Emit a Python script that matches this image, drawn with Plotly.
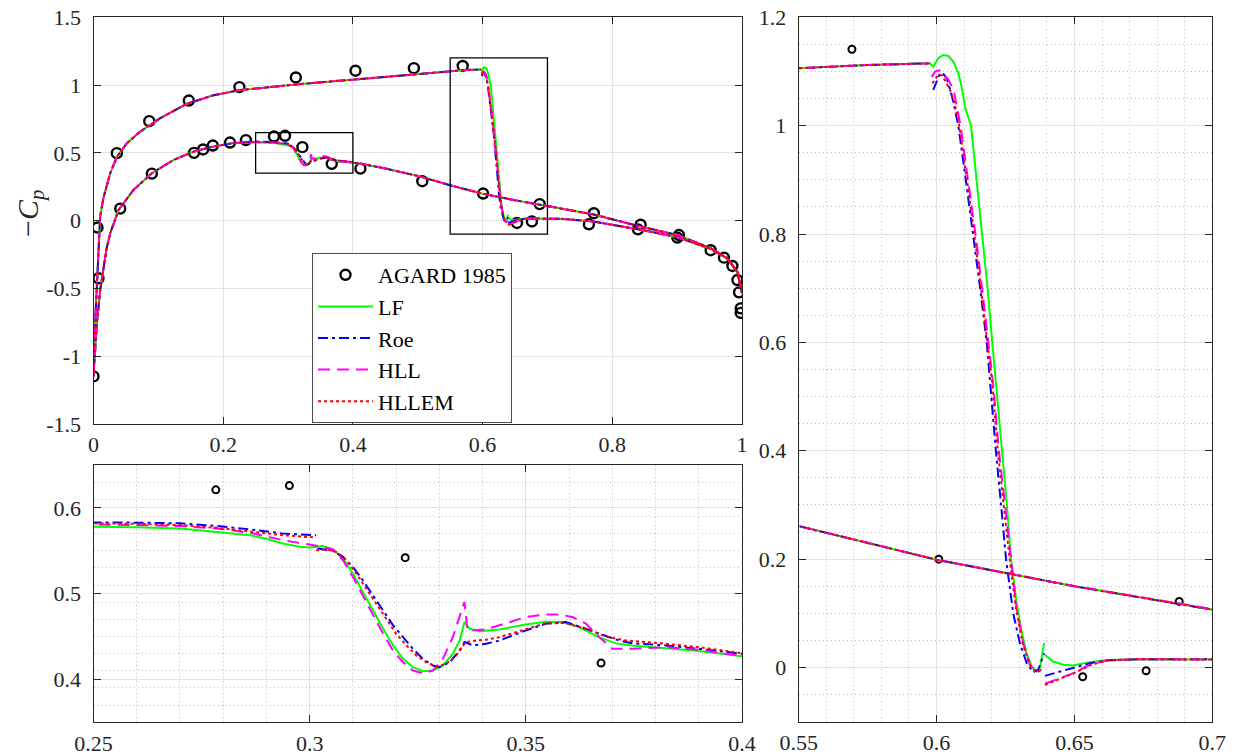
import plotly.graph_objects as go

# ---------------- data ----------------
AGARD_X = [0.0, 0.0062, 0.036, 0.086, 0.147, 0.225, 0.312, 0.404, 0.494, 0.5693,
           0.653, 0.676, 0.7639, 0.8395, 0.9003,
           0.0077, 0.0412, 0.090, 0.155, 0.169, 0.184, 0.2105, 0.235, 0.2783, 0.2953,
           0.3221, 0.3674, 0.4116, 0.507, 0.6008, 0.688, 0.7716, 0.8437, 0.9028,
           0.9517, 0.9722, 0.9852, 0.9929, 0.9954, 0.998, 0.998]
AGARD_Y = [-1.149, -0.051, 0.498, 0.734, 0.886, 0.985, 1.056, 1.106, 1.125, 1.141,
           -0.017, -0.006, -0.027, -0.064, -0.125,
           -0.425, 0.089, 0.347, 0.500, 0.525, 0.554, 0.576, 0.594, 0.621, 0.626,
           0.542, 0.419, 0.384, 0.291, 0.200, 0.122, 0.055, -0.030, -0.106,
           -0.218, -0.273, -0.334, -0.438, -0.529, -0.647, -0.680]

# upper surface, shared by all schemes (leading edge -> shock)
UPPER_LE_X = [0.0, 0.001, 0.0037, 0.0068, 0.0103, 0.0154, 0.0258, 0.036, 0.0515, 0.072,
              0.103, 0.144, 0.185, 0.226, 0.278, 0.32, 0.4, 0.473, 0.52, 0.55, 0.575, 0.5976]
UPPER_LE_Y = [-1.147, -0.88, -0.635, -0.266, 0.03, 0.17, 0.35, 0.47, 0.571, 0.657,
              0.756, 0.862, 0.925, 0.963, 0.99, 1.008, 1.04, 1.072, 1.093, 1.106, 1.112, 1.115]
# upper surface, shared (after shock -> trailing edge)
UPPER_TE_X = [0.7, 0.72, 0.7716, 0.8437, 0.9003, 0.9517, 0.9774, 0.9929, 1.0]
UPPER_TE_Y = [0.0155, 0.014, -0.007, -0.067, -0.122, -0.208, -0.28, -0.38, -0.536]
# lower surface, shared (leading edge -> 0.25)
LOWER_LE_X = [0.0, 0.002, 0.0052, 0.0103, 0.0154, 0.02, 0.0258, 0.0386, 0.0617, 0.09,
              0.1235, 0.155, 0.185, 0.216]
LOWER_LE_Y = [-1.147, -1.0, -0.758, -0.512, -0.34, -0.21, -0.093, 0.079, 0.227, 0.35,
              0.448, 0.51, 0.547, 0.572]
# lower surface, shared (0.4 -> trailing edge)
LOWER_TE_X = [0.42, 0.45, 0.5, 0.55, 0.6, 0.65, 0.7, 0.72, 0.7716, 0.8437, 0.9003,
              0.9517, 0.9774, 0.9929, 1.0]
LOWER_TE_Y = [0.413, 0.385, 0.33, 0.261, 0.199, 0.15, 0.108, 0.0915, 0.045, -0.044, -0.106,
              -0.203, -0.276, -0.376, -0.536]

# scheme-specific shock regions: upper surface (0.5976 -> 0.7)
LF_UP_X = [0.5988, 0.6006, 0.6024, 0.6043, 0.6061, 0.6079, 0.6091, 0.6103, 0.6125, 0.6145,
           0.6166, 0.6185, 0.6202, 0.622, 0.6238, 0.6255, 0.627, 0.629, 0.6309, 0.6327,
           0.6345, 0.6363, 0.6375, 0.639, None,
           0.6393, 0.6423, 0.646, 0.6496, 0.6544, 0.6617, 0.6738]
LF_UP_Y = [1.1088, 1.1243, 1.1304, 1.1286, 1.118, 1.0966, 1.072, 1.035, 1.0, 0.9,
           0.8, 0.7, 0.6, 0.5, 0.4, 0.3, 0.2, 0.12, 0.065, 0.025,
           0.002, -0.007, -0.001, 0.045, None,
           0.0234, 0.011, 0.005, 0.0037, 0.009, 0.014, 0.0154]
ROE_UP_X = [None, 0.5988, 0.6001, 0.6013, 0.6025, 0.6037, 0.6058, 0.6079, 0.6106, 0.6133,
            0.6158, 0.6182, 0.6198, 0.6215, 0.6234, 0.6252, 0.6278, 0.6302, 0.6327, 0.6351,
            0.6369, 0.639, None,
            0.6393, 0.6448, 0.6496, 0.6556, 0.6617, 0.6738]
ROE_UP_Y = [None, 1.066, 1.084, 1.097, 1.095, 1.0875, 1.05, 1.0, 0.9, 0.8,
            0.7, 0.6, 0.5, 0.4, 0.3, 0.2, 0.1, 0.045, 0.008, -0.009,
            -0.004, 0.026, None,
            -0.0154, -0.0074, 0.0006, 0.008, 0.013, 0.0154]
HLL_UP_X = [None, 0.5982, 0.5995, 0.601, 0.6025, 0.6043, 0.6062, 0.6087, 0.6114, 0.6141,
            0.6165, 0.6188, 0.6206, 0.6226, 0.6248, 0.6269, 0.629, 0.6314, 0.6339, 0.6363,
            0.6381, None,
            0.6393, 0.6448, 0.6496, 0.6556, 0.6617, 0.6738]
HLL_UP_Y = [None, 1.09, 1.1, 1.102, 1.095, 1.085, 1.065, 1.0, 0.9, 0.8,
            0.7, 0.6, 0.52, 0.4, 0.3, 0.2, 0.11, 0.045, 0.005, -0.009,
            -0.004, None,
            -0.03, -0.02, -0.0105, 0.005, 0.013, 0.0154]
HLLEM_UP_X = [None, 0.5985, 0.6006, 0.602, 0.6049, 0.6066, 0.6082, 0.611, 0.6137, 0.6161,
              0.6185, 0.6203, 0.6222, 0.6244, 0.6265, 0.6288, 0.6312, 0.6337, 0.6361, 0.638, None,
              0.6393, 0.6448, 0.6496, 0.6556, 0.6617, 0.6738]
HLLEM_UP_Y = [None, 1.078, 1.094, 1.093, 1.066, 1.04, 1.0, 0.9, 0.8, 0.7,
              0.6, 0.52, 0.4, 0.3, 0.2, 0.11, 0.045, 0.005, -0.009, -0.004, None,
              -0.032, -0.021, -0.011, 0.004, 0.013, 0.0154]

# scheme-specific lower surface (0.25 -> 0.4)
LF_LO_X = [0.25, 0.26, 0.27, 0.2785, 0.2862, 0.29, 0.2938, 0.2977, 0.3, 0.303, 0.3054,
           0.3077, 0.31, 0.3123, 0.3146, 0.317, 0.3193, 0.3216, 0.3239, 0.3262, 0.3285,
           0.3308, 0.3331, 0.3347, 0.3358, 0.337, 0.3393, 0.3416, 0.3439, 0.35, 0.3546,
           0.3585, 0.3623, 0.367, 0.3708, 0.3746, 0.3823, 0.39, 0.4]
LF_LO_Y = [0.578, 0.5775, 0.576, 0.572, 0.568, 0.564, 0.5585, 0.5546, 0.5538, 0.5554, 0.5515,
           0.541, 0.5234, 0.502, 0.4805, 0.459, 0.4396, 0.424, 0.4142, 0.4095, 0.4103,
           0.4162, 0.4298, 0.4454, 0.4669, 0.459, 0.4563, 0.4571, 0.4583, 0.464, 0.4672,
           0.467, 0.461, 0.449, 0.442, 0.4396, 0.4364, 0.433, 0.427]
ROE_LO_X = [0.25, 0.26, 0.27, 0.2785, 0.2862, 0.2938, 0.3015, None,
            0.3018, 0.3054, 0.3077, 0.31, 0.3123, 0.3146, 0.317, 0.3193, 0.3216, 0.3239,
            0.3262, 0.3285, 0.33, 0.3324, 0.3347, 0.3358, 0.3378, 0.3408, 0.3439, 0.35,
            0.3546, 0.3592, 0.3639, 0.3685, 0.3715, 0.3746, 0.3823, 0.39, 0.4]
ROE_LO_Y = [0.583, 0.5828, 0.582, 0.579, 0.575, 0.570, 0.568, None,
            0.5526, 0.55, 0.5429, 0.5312, 0.5156, 0.498, 0.4805, 0.463, 0.4493, 0.4357,
            0.424, 0.4162, 0.4142, 0.42, 0.4337, 0.4435, 0.4396, 0.4415, 0.4454, 0.4571,
            0.4649, 0.4669, 0.459, 0.4513, 0.4454, 0.4423, 0.4396, 0.4357, 0.4298]
HLL_LO_X = [0.25, 0.26, 0.27, 0.2785, 0.2862, 0.2938, 0.2977, 0.3008, 0.303, 0.3054,
            0.3077, 0.31, 0.3123, 0.3146, 0.317, 0.3193, 0.3216, 0.3239, 0.3262, 0.3285,
            0.3308, 0.3331, 0.3347, 0.3358, 0.3365, 0.3378, 0.3408, 0.3439, 0.35, 0.3546,
            0.3577, 0.3608, 0.3639, 0.367, 0.37, 0.3746, 0.3823, 0.39, 0.4]
HLL_LO_Y = [0.5807, 0.58, 0.5788, 0.576, 0.571, 0.5624, 0.5593, 0.5562, 0.5546, 0.5515,
            0.539, 0.5195, 0.498, 0.4747, 0.4532, 0.4337, 0.42, 0.4103, 0.4072, 0.4103,
            0.424, 0.4493, 0.4727, 0.4903, 0.4575, 0.4571, 0.4583, 0.463, 0.4727, 0.4758,
            0.4758, 0.4727, 0.465, 0.4493, 0.4357, 0.4357, 0.4376, 0.4345, 0.4279]
HLLEM_LO_X = [0.25, 0.26, 0.27, 0.2785, 0.2862, 0.2938, 0.3012, None,
              0.3015, 0.3039, 0.3062, 0.3085, 0.3108, 0.3131, 0.3154, 0.3177, 0.32, 0.3224,
              0.3247, 0.327, 0.3293, 0.3316, 0.3339, 0.3355, 0.3362, 0.3385, 0.3408, 0.3439,
              0.35, 0.3546, 0.3592, 0.3639, 0.3685, 0.3731, 0.3823, 0.39, 0.4]
HLLEM_LO_Y = [0.5819, 0.5815, 0.58, 0.5768, 0.5721, 0.5682, 0.5655, None,
              0.5507, 0.5515, 0.5487, 0.539, 0.5234, 0.5058, 0.4883, 0.4708, 0.4532, 0.4396,
              0.4279, 0.42, 0.415, 0.4181, 0.4279, 0.4396, 0.4435, 0.4454, 0.4462, 0.4493,
              0.459, 0.4655, 0.4657, 0.459, 0.45, 0.4454, 0.4415, 0.4376, 0.4306]

SERIES_NAMES = ["LF", "Roe", "HLL", "HLLEM"]

# axis ranges / ticks
MAIN_X_RANGE, MAIN_Y_RANGE = [0, 1], [-1.5, 1.5]
ZOOM_A_X_RANGE, ZOOM_A_Y_RANGE = [0.25, 0.4], [0.35, 0.65]
ZOOM_B_X_RANGE, ZOOM_B_Y_RANGE = [0.55, 0.7], [-0.1, 1.2]
MAIN_X_TICKS = [0, 0.2, 0.4, 0.6, 0.8, 1]
MAIN_X_LABELS = ["0", "0.2", "0.4", "0.6", "0.8", "1"]
MAIN_Y_TICKS = [-1.5, -1, -0.5, 0, 0.5, 1, 1.5]
MAIN_Y_LABELS = ["-1.5", "-1", "-0.5", "0", "0.5", "1", "1.5"]
ZA_X_TICKS = [0.25, 0.3, 0.35, 0.4]
ZA_X_LABELS = ["0.25", "0.3", "0.35", "0.4"]
ZA_Y_TICKS = [0.4, 0.5, 0.6]
ZA_Y_LABELS = ["0.4", "0.5", "0.6"]
ZB_X_TICKS = [0.55, 0.6, 0.65, 0.7]
ZB_X_LABELS = ["0.55", "0.6", "0.65", "0.7"]
ZB_Y_TICKS = [0, 0.2, 0.4, 0.6, 0.8, 1, 1.2]
ZB_Y_LABELS = ["0", "0.2", "0.4", "0.6", "0.8", "1", "1.2"]

# ---------------- styling ----------------
FONT = "Liberation Serif"
AXC = "#262626"
STYLES = {
    "LF": dict(color="#00ff00", dash="solid"),
    "Roe": dict(color="#0000ff", dash="10px,4px,3px,4px"),
    "HLL": dict(color="#ff00ff", dash="12px,7px"),
    "HLLEM": dict(color="#ff0000", dash="3px,3px"),
}
PIECES = {
    "LF": (LF_UP_X, LF_UP_Y, LF_LO_X, LF_LO_Y),
    "Roe": (ROE_UP_X, ROE_UP_Y, ROE_LO_X, ROE_LO_Y),
    "HLL": (HLL_UP_X, HLL_UP_Y, HLL_LO_X, HLL_LO_Y),
    "HLLEM": (HLLEM_UP_X, HLLEM_UP_Y, HLLEM_LO_X, HLLEM_LO_Y),
}


def assemble(name):
    ux, uy, lx, ly = PIECES[name]
    x = UPPER_LE_X + ux + UPPER_TE_X + [None] + LOWER_LE_X + lx + LOWER_TE_X
    y = UPPER_LE_Y + uy + UPPER_TE_Y + [None] + LOWER_LE_Y + ly + LOWER_TE_Y
    return x, y


fig = go.Figure()
panels = [("x", "y", 10, 2.4, True), ("x2", "y2", 7, 2.0, False), ("x3", "y3", 7, 2.0, False)]
for xa, ya, msize, mlw, legend in panels:
    fig.add_trace(go.Scatter(
        x=AGARD_X, y=AGARD_Y, mode="markers", name="AGARD 1985",
        marker=dict(symbol="circle-open", size=msize, color="black", line=dict(width=mlw, color="black")),
        xaxis=xa, yaxis=ya, showlegend=legend))
    for name in SERIES_NAMES:
        x, y = assemble(name)
        st = STYLES[name]
        fig.add_trace(go.Scatter(
            x=x, y=y, mode="lines", name=name,
            line=dict(color=st["color"], dash=st["dash"], width=2),
            xaxis=xa, yaxis=ya, showlegend=legend))

W, H = 1247, 756
def px_x(p):
    return p / W
def px_y(p):
    return 1 - p / H

common = dict(showline=True, linecolor=AXC, linewidth=1, mirror="allticks",
              ticks="inside", ticklen=7, tickcolor=AXC, tickwidth=1,
              showgrid=True, gridcolor="#e2e2e2", gridwidth=1, zeroline=False,
              automargin=False,
              tickfont=dict(family=FONT, size=22, color=AXC), tickmode="array")
minor_x = lambda d, t0: dict(dtick=d, tick0=t0, showgrid=True, gridcolor="#bdbdbd",
                             griddash="1px,3px", gridwidth=1, ticks="")

XSO, YSO = 1, 7
fig.update_layout(
    width=W, height=H, margin=dict(l=0, r=0, t=0, b=0, pad=0, autoexpand=False),
    paper_bgcolor="white", plot_bgcolor="white",
    font=dict(family=FONT, color=AXC),
    xaxis=dict(domain=[px_x(93.5), px_x(742)], range=MAIN_X_RANGE, anchor="y",
               tickvals=MAIN_X_TICKS, ticktext=MAIN_X_LABELS, ticklabelstandoff=XSO, **common),
    yaxis=dict(domain=[px_y(424), px_y(17.3)], range=MAIN_Y_RANGE, anchor="x",
               tickvals=MAIN_Y_TICKS, ticktext=MAIN_Y_LABELS, ticklabelstandoff=YSO, **common),
    xaxis2=dict(domain=[px_x(93.5), px_x(742)], range=ZOOM_A_X_RANGE, anchor="y2",
                tickvals=ZA_X_TICKS, ticktext=ZA_X_LABELS, ticklabelstandoff=XSO,
                minor=minor_x(0.01, 0.25), **common),
    yaxis2=dict(domain=[px_y(722.3), px_y(465)], range=ZOOM_A_Y_RANGE, anchor="x2",
                tickvals=ZA_Y_TICKS, ticktext=ZA_Y_LABELS, ticklabelstandoff=YSO,
                minor=minor_x(0.02, 0.35), **common),
    xaxis3=dict(domain=[px_x(798.7), px_x(1212.3)], range=ZOOM_B_X_RANGE, anchor="y3",
                tickvals=ZB_X_TICKS, ticktext=ZB_X_LABELS, ticklabelstandoff=XSO,
                minor=minor_x(0.01, 0.55), **common),
    yaxis3=dict(domain=[px_y(721.7), px_y(17.3)], range=ZOOM_B_Y_RANGE, anchor="x3",
                tickvals=ZB_Y_TICKS, ticktext=ZB_Y_LABELS, ticklabelstandoff=YSO,
                minor=minor_x(0.05, -0.1), **common),
    legend=dict(x=px_x(312), y=px_y(253), xanchor="left", yanchor="top",
                bgcolor="white", bordercolor="#4d4d4d", borderwidth=1, itemwidth=55,
                font=dict(family=FONT, size=22, color="black"), tracegroupgap=0),
    shapes=[
        dict(type="rect", xref="x", yref="y", x0=ZOOM_A_X_RANGE[0], x1=ZOOM_A_X_RANGE[1],
             y0=ZOOM_A_Y_RANGE[0], y1=ZOOM_A_Y_RANGE[1], line=dict(color="black", width=1.3)),
        dict(type="rect", xref="x", yref="y", x0=ZOOM_B_X_RANGE[0], x1=ZOOM_B_X_RANGE[1],
             y0=ZOOM_B_Y_RANGE[0], y1=ZOOM_B_Y_RANGE[1], line=dict(color="black", width=1.3)),
    ],
    annotations=[
        dict(text="\u2212<i>C</i><sub><i>p</i></sub>", x=px_x(30), y=px_y(214), xref="paper",
             yref="paper", xanchor="center", yanchor="middle", showarrow=False, textangle=-90,
             font=dict(family=FONT, size=30, color=AXC)),
    ],
)

fig.write_html("out.html")
